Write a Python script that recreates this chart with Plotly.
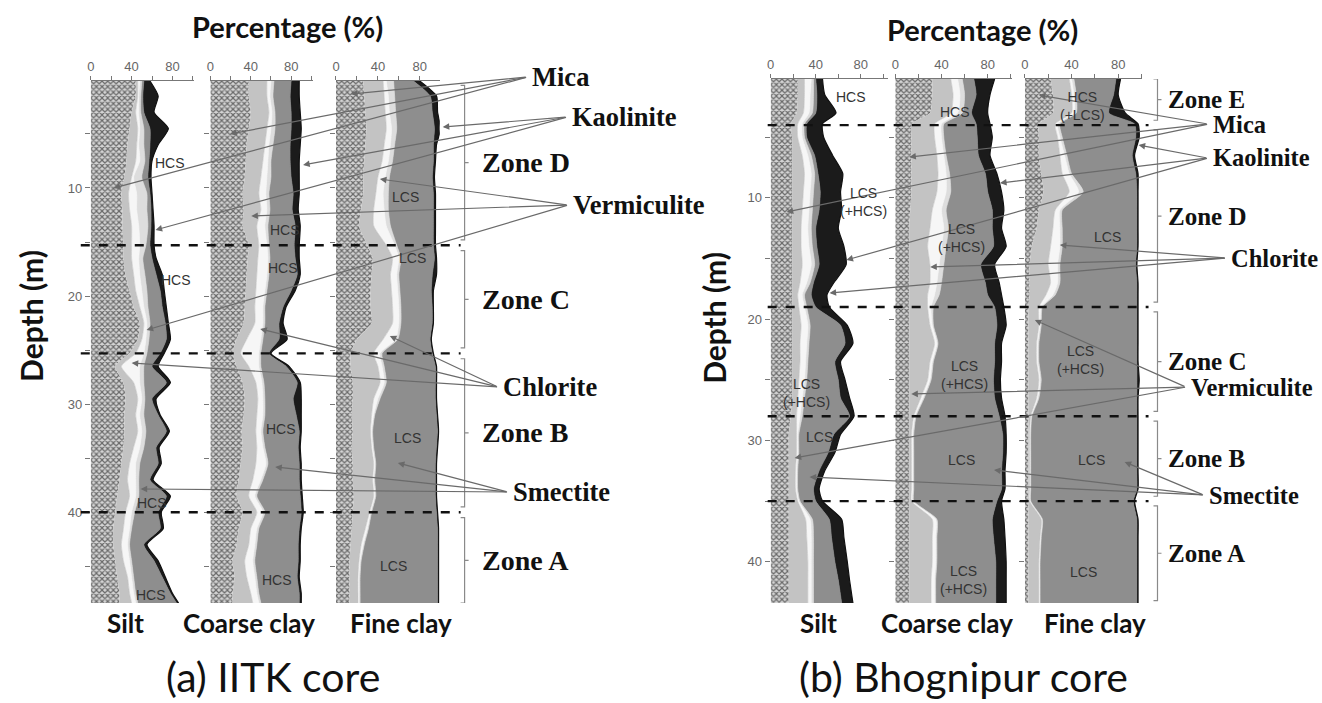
import plotly.graph_objects as go

W, H = 1322, 703

# ---------------- data (cumulative mineral boundaries, % of fraction) ----------------
MINERALS = ["Mica", "Vermiculite", "Chlorite", "Mixed layer", "Smectite", "Kaolinite"]

IITK_DEPTH = [0.1, 1.5, 3, 4.5, 6, 7.5, 9, 10.5, 12, 13.5, 15.3, 16.5, 18, 19.5, 21, 22.5,
              24, 25.3, 26.5, 28, 29.5, 31, 32.5, 34, 35.5, 37, 38.5, 40, 41.5, 43, 44.5,
              46, 47.5, 48.4]

IITK_SILT = [
    (44, 46, 48, 50, 52, 58), (44, 46, 47, 49, 51, 66), (40, 44, 47, 49, 52, 62),
    (38, 46, 48, 52, 58, 76), (36, 45, 47, 52, 58, 66), (35, 44, 48, 53, 57, 60),
    (33, 40, 42, 50, 56, 59), (30, 37, 45, 55, 58, 60), (31, 38, 45, 55, 59, 61),
    (31, 40, 47, 56, 59, 62), (32, 40, 48, 54, 58, 62), (32, 40, 47, 51, 60, 64),
    (34, 42, 48, 53, 64, 70), (38, 44, 50, 55, 68, 72), (42, 48, 52, 56, 70, 74),
    (48, 52, 55, 58, 73, 76), (46, 50, 54, 57, 74, 78), (38, 44, 52, 55, 68, 72),
    (24, 30, 48, 52, 60, 66), (32, 42, 48, 52, 74, 78), (34, 46, 50, 53, 60, 64),
    (33, 44, 48, 52, 66, 68), (33, 46, 50, 54, 74, 77), (32, 42, 48, 52, 64, 67),
    (30, 38, 44, 48, 66, 69), (28, 36, 44, 47, 58, 61), (26, 38, 44, 47, 74, 78),
    (24, 34, 40, 43, 66, 69), (22, 32, 38, 40, 68, 71), (22, 30, 36, 38, 52, 55),
    (24, 32, 38, 40, 62, 66), (26, 36, 40, 42, 70, 73), (28, 38, 42, 44, 78, 80),
    (28, 40, 44, 46, 84, 86),
]
IITK_COARSE = [
    (38, 56, 60, 63, 80, 88), (38, 56, 59, 62, 79, 88), (40, 58, 61, 64, 80, 89),
    (38, 56, 60, 64, 80, 90), (36, 54, 58, 62, 79, 89), (35, 52, 57, 60, 79, 88),
    (34, 50, 56, 60, 80, 88), (32, 48, 55, 58, 82, 88), (33, 50, 56, 59, 81, 87),
    (32, 46, 54, 57, 84, 89), (38, 48, 56, 58, 83, 88), (37, 47, 57, 59, 84, 88),
    (36, 46, 56, 58, 86, 89), (35, 45, 54, 56, 80, 84), (34, 44, 52, 54, 72, 75),
    (33, 44, 52, 54, 68, 72), (26, 36, 50, 52, 68, 76), (22, 30, 48, 50, 58, 60),
    (26, 38, 48, 50, 75, 78), (32, 45, 51, 53, 86, 89), (34, 47, 52, 54, 82, 90),
    (33, 46, 52, 54, 85, 90), (31, 45, 50, 52, 88, 90), (32, 46, 52, 54, 87, 89),
    (30, 45, 55, 57, 88, 90), (28, 42, 50, 52, 88, 90), (26, 38, 44, 46, 89, 91),
    (32, 46, 52, 54, 90, 92), (28, 40, 46, 48, 88, 90), (26, 38, 44, 46, 87, 89),
    (22, 34, 42, 44, 87, 89), (24, 36, 44, 46, 86, 88), (22, 40, 46, 48, 88, 90),
    (22, 42, 48, 50, 88, 90),
]
IITK_FINE = [
    (26, 45, 48, 55, 74, 80), (27, 46, 50, 56, 90, 96), (28, 47, 51, 57, 92, 97),
    (29, 48, 53, 58, 94, 100), (28, 46, 52, 56, 93, 96), (27, 44, 50, 54, 93, 95),
    (26, 40, 47, 51, 92, 94), (26, 38, 45, 50, 93, 95), (24, 36, 46, 50, 93, 95),
    (22, 36, 48, 52, 93, 95), (30, 48, 56, 58, 93, 95), (35, 54, 60, 62, 94, 96),
    (34, 52, 58, 60, 92, 96), (33, 53, 59, 61, 91, 93), (33, 54, 60, 62, 92, 93),
    (34, 54, 60, 62, 92, 93), (20, 45, 57, 59, 90, 91), (14, 36, 42, 44, 92, 93),
    (14, 40, 44, 46, 95, 96), (16, 42, 46, 48, 95, 96), (16, 36, 40, 42, 95, 96),
    (15, 34, 36, 37, 96, 97), (16, 33, 34, 35, 97, 98), (15, 34, 35, 36, 96, 97),
    (16, 36, 37, 38, 95, 96), (16, 35, 36, 37, 95, 96), (17, 36, 37, 38, 95, 96),
    (16, 32, 33, 34, 96, 97), (15, 28, 30, 31, 97, 98), (14, 24, 26, 27, 97, 98),
    (13, 22, 23, 24, 97, 98), (13, 21, 22, 23, 97, 98), (13, 21, 22, 23, 97, 98),
    (13, 21, 22, 23, 97, 98),
]

BHOG_DEPTH = [0.2, 1.5, 3, 3.9, 5, 6.5, 8, 9.5, 11, 12.5, 14, 15.5, 17, 18, 19, 20.5, 22,
              23.5, 25, 26.5, 28, 29.5, 31, 32.5, 34, 35, 36.5, 38, 40, 41.5, 43.4]

BHOG_SILT = [
    (24, 30, 36, 38, 40, 46), (24, 30, 35, 38, 41, 48), (23, 29, 34, 37, 40, 58),
    (18, 24, 28, 30, 32, 46), (19, 24, 28, 30, 32, 47), (19, 28, 33, 36, 39, 55),
    (19, 30, 36, 39, 42, 64), (19, 29, 35, 38, 44, 62), (19, 28, 34, 37, 43, 63),
    (19, 27, 33, 36, 40, 60), (19, 27, 34, 37, 41, 65), (19, 28, 36, 39, 43, 67),
    (19, 26, 32, 35, 38, 56), (19, 24, 28, 30, 36, 50), (19, 25, 30, 32, 40, 52),
    (19, 27, 33, 35, 62, 68), (19, 26, 32, 34, 66, 73), (19, 26, 31, 33, 57, 62),
    (19, 25, 30, 32, 60, 66), (19, 24, 28, 30, 62, 70), (18, 23, 26, 28, 70, 74),
    (16, 23, 24, 25, 56, 62), (16, 23, 24, 25, 51, 57), (16, 22, 23, 24, 43, 48),
    (16, 22, 23, 24, 38, 43), (16, 24, 25, 26, 40, 46), (16, 31, 35, 37, 52, 63),
    (16, 32, 36, 38, 54, 65), (16, 33, 36, 38, 57, 68), (16, 33, 36, 38, 60, 70),
    (16, 33, 36, 38, 63, 73),
]
BHOG_COARSE = [
    (32, 48, 54, 58, 68, 86), (32, 50, 56, 60, 70, 82), (30, 48, 54, 58, 66, 80),
    (14, 34, 40, 42, 70, 82), (14, 34, 40, 42, 71, 84), (14, 36, 42, 44, 72, 82),
    (14, 37, 44, 47, 78, 88), (14, 36, 44, 48, 80, 92), (13, 32, 40, 44, 84, 94),
    (12, 30, 42, 46, 84, 92), (12, 28, 40, 44, 85, 96), (12, 30, 38, 42, 74, 86),
    (12, 30, 36, 40, 78, 90), (12, 28, 34, 38, 80, 92), (12, 28, 31, 33, 86, 94),
    (12, 30, 32, 33, 88, 96), (12, 34, 36, 37, 86, 92), (12, 30, 32, 33, 86, 92),
    (12, 28, 30, 31, 85, 91), (12, 22, 24, 25, 86, 92), (12, 16, 17, 18, 90, 95),
    (12, 14, 15, 16, 93, 96), (12, 14, 15, 16, 93, 96), (12, 14, 15, 16, 92, 95),
    (12, 14, 15, 16, 92, 95), (12, 14, 15, 16, 88, 92), (12, 32, 35, 36, 84, 94),
    (12, 32, 35, 36, 85, 95), (12, 32, 35, 36, 87, 96), (12, 31, 34, 35, 87, 96),
    (12, 31, 34, 35, 87, 96),
]
BHOG_FINE = [
    (22, 38, 40, 42, 78, 82), (24, 40, 42, 44, 76, 80), (24, 40, 42, 44, 72, 86),
    (12, 26, 28, 30, 94, 97), (12, 28, 30, 32, 95, 98), (12, 30, 34, 36, 92, 94),
    (14, 32, 38, 40, 95, 97), (16, 38, 46, 50, 96, 97), (12, 26, 30, 32, 96, 97),
    (10, 24, 30, 32, 96, 97), (6, 22, 30, 32, 96, 97), (4, 20, 28, 30, 95, 96),
    (4, 22, 28, 30, 96, 97), (4, 18, 24, 26, 96, 97), (3, 12, 14, 15, 96, 97),
    (3, 12, 13, 14, 96, 97), (3, 10, 11, 12, 96, 97), (3, 10, 11, 12, 96, 97),
    (3, 12, 13, 14, 96, 98), (3, 10, 11, 12, 96, 97), (3, 5, 6, 6, 96, 97),
    (3, 4, 5, 5, 96, 97), (3, 4, 5, 5, 96, 97), (3, 4, 5, 5, 96, 97),
    (3, 4, 5, 5, 96, 97), (3, 4, 5, 5, 93, 94), (3, 14, 15, 15, 96, 97),
    (3, 13, 14, 14, 96, 97), (3, 12, 13, 13, 96, 97), (3, 12, 13, 13, 96, 97),
    (3, 12, 13, 13, 96, 97),
]

IITK_BOUNDARIES = [15.3, 25.3, 40]
BHOG_BOUNDARIES = [4, 19, 28, 35]
IITK_ZONES = [("Zone D", 0.5, 14.8), ("Zone C", 15.8, 24.8), ("Zone B", 25.8, 39.5), ("Zone A", 40.5, 48.4)]
BHOG_ZONES = [("Zone E", 0.2, 3.6), ("Zone D", 4.4, 18.6), ("Zone C", 19.4, 27.6), ("Zone B", 28.4, 34.6), ("Zone A", 35.4, 43.2)]

PCT_TICKS = [0, 20, 40, 60, 80, 100]
PCT_TICKTEXT = ["0", "", "40", "", "80", ""]

# ---------------- styling ----------------
FILL = ["#d4d4d4", "#c3c3c3", "#f6f6f6", "#dddddd", "#8e8e8e", "#1b1b1b"]
GREY_TXT = "#666666"

fig = go.Figure()

def px_x(p):
    return p / W

def px_y(p):
    return 1 - p / H

# panel geometry: (name, depth, table, left px, right px, xmax, top px, bottom px, yrange)
panels = [
    ("Silt", IITK_DEPTH, IITK_SILT, 87, 191, 101.5, 81, 603, [48.4, 0.1]),
    ("Coarse clay", IITK_DEPTH, IITK_COARSE, 207, 310, 101.7, 81, 603, [48.4, 0.1]),
    ("Fine clay", IITK_DEPTH, IITK_FINE, 333, 437, 99.0, 81, 603, [48.4, 0.1]),
    ("Silt", BHOG_DEPTH, BHOG_SILT, 769, 887, 104.4, 79, 603, [43.4, 0.2]),
    ("Coarse clay", BHOG_DEPTH, BHOG_COARSE, 894, 1011, 101.0, 79, 603, [43.4, 0.2]),
    ("Fine clay", BHOG_DEPTH, BHOG_FINE, 1024, 1141, 100.0, 79, 603, [43.4, 0.2]),
]

layout_axes = {}
for i, (name, depth, table, x0, x1, xmax, y0, y1, yr) in enumerate(panels, start=1):
    xa = "x" if i == 1 else f"x{i}"
    ya = "y" if i == 1 else f"y{i}"
    cols = list(zip(*table))
    for k, col in enumerate(cols):
        kw = dict(
            x=list(col), y=depth, xaxis=xa, yaxis=ya, mode="lines",
            fill="tozerox" if k == 0 else "tonextx",
            fillcolor=FILL[k],
            line=dict(width=0.6 if k < 5 else 1.2, color=FILL[k] if k < 5 else "#111111", shape="spline", smoothing=0.6),
            name=MINERALS[k], showlegend=False, hoverinfo="skip",
        )
        if k == 0:
            kw["fillpattern"] = dict(shape="x", size=4, solidity=0.5, fgcolor="#6a6a6a",
                                     bgcolor="#d4d4d4", fillmode="replace")
            kw["line"] = dict(width=0, color="#bdbdbd", shape="spline", smoothing=0.6)
        fig.add_trace(go.Scatter(**kw))
    first = i in (1, 4)
    ytv = [5, 10, 15, 20, 25, 30, 35, 40, 45] if i <= 3 else [5, 10, 15, 20, 25, 30, 35, 40]
    ytt = [str(v) if v % 10 == 0 else "" for v in ytv]
    layout_axes["xaxis" if i == 1 else f"xaxis{i}"] = dict(
        domain=[px_x(x0), px_x(x1)], range=[0, xmax], side="top", anchor=ya,
        tickvals=PCT_TICKS, ticktext=PCT_TICKTEXT, ticks="outside", ticklen=4,
        tickcolor="#777", tickwidth=1, showline=True, linecolor="#777", linewidth=1.3,
        showgrid=False, zeroline=False, fixedrange=True,
        tickfont=dict(family="Liberation Sans", size=13, color=GREY_TXT),
    )
    layout_axes["yaxis" if i == 1 else f"yaxis{i}"] = dict(
        domain=[px_y(y1), px_y(y0)], range=yr, anchor=xa,
        tickvals=ytv, ticktext=ytt, ticks="outside", ticklen=5, tickcolor="#777",
        showticklabels=first, showline=False, showgrid=False, zeroline=False, fixedrange=True,
        tickfont=dict(family="Liberation Sans", size=13, color=GREY_TXT),
    )

shapes = []
annotations = []

# dashed zone boundaries
for d in IITK_BOUNDARIES:
    shapes.append(dict(type="line", xref="paper", yref="y", x0=px_x(77), x1=px_x(458), y0=d, y1=d,
                       line=dict(color="#111", width=2.4, dash="dash")))
for d in BHOG_BOUNDARIES:
    shapes.append(dict(type="line", xref="paper", yref="y4", x0=px_x(766), x1=px_x(1148), y0=d, y1=d,
                       line=dict(color="#111", width=2.4, dash="dash")))

# brackets and zone labels
def bracket(xpix, yref, d0, d1):
    xl = px_x(xpix - 4)
    xm = px_x(xpix)
    xr = px_x(xpix + 4)
    mid = (d0 + d1) / 2
    path = (f"M {xl} {d0} L {xm} {d0} L {xm} {d1} L {xl} {d1} "
            f"M {xm} {mid} L {xr} {mid}")
    return dict(type="path", xref="paper", yref=yref, path=path,
                line=dict(color="#8a8a8a", width=1.2))

for zname, d0, d1 in IITK_ZONES:
    shapes.append(bracket(462, "y", d0, d1))
    annotations.append(dict(text=f"<b>{zname}</b>", xref="paper", yref="y", x=px_x(477), y=(d0 + d1) / 2,
                            xanchor="left", yanchor="middle", showarrow=False,
                            font=dict(family="Liberation Serif", size=28, color="#111")))
for zname, d0, d1 in BHOG_ZONES:
    shapes.append(bracket(1157, "y4", d0, d1))
    annotations.append(dict(text=f"<b>{zname}</b>", xref="paper", yref="y4", x=px_x(1166), y=(d0 + d1) / 2,
                            xanchor="left", yanchor="middle", showarrow=False,
                            font=dict(family="Liberation Serif", size=25, color="#111")))

# mineral labels with leader lines (pixel positions)
LEADERS = [
    ("Mica", 528, 77, [(110, 188), (227, 134), (348, 94)]),
    ("Kaolinite", 568, 117, [(152, 230), (300, 165), (440, 127)]),
    ("Vermiculite", 569, 205, [(143, 330), (248, 216), (377, 179)]),
    ("Chlorite", 499, 387, [(128, 363), (257, 329), (387, 336)]),
    ("Smectite", 509, 492, [(137, 489), (272, 467), (395, 463)]),
    ("Mica", 1211, 124, [(785, 212), (908, 157), (1038, 95)]),
    ("Kaolinite", 1211, 158, [(845, 260), (999, 183), (1138, 145)]),
    ("Chlorite", 1229, 258, [(828, 293), (929, 267), (1059, 245)]),
    ("Vermiculite", 1189, 387, [(793, 458), (910, 394), (1034, 320)]),
    ("Smectite", 1207, 495, [(808, 477), (993, 470), (1124, 462)]),
]
for label, lx, ly, heads in LEADERS:
    fs = 26.5 if lx < 700 else 24.5
    annotations.append(dict(text=f"<b>{label}</b>", xref="paper", yref="paper", x=px_x(lx), y=px_y(ly),
                            xanchor="left", yanchor="middle", showarrow=False,
                            font=dict(family="Liberation Serif", size=fs, color="#111")))
    for hx, hy in heads:
        annotations.append(dict(text="", xref="paper", yref="paper", x=px_x(hx), y=px_y(hy),
                                showarrow=True, axref="pixel", ayref="pixel",
                                ax=(lx - 4) - hx, ay=ly - hy, arrowhead=2, arrowsize=1.1,
                                arrowwidth=1.2, arrowcolor="#6a6a6a", standoff=0))

# HCS / LCS labels inside columns
SAMPLE_TAGS = [
    ("HCS", 167, 163), ("HCS", 173, 280), ("HCS", 148, 503), ("HCS", 147, 595),
    ("HCS", 282, 230), ("HCS", 280, 268), ("HCS", 278, 429), ("HCS", 274, 580),
    ("LCS", 403, 197), ("LCS", 410, 258), ("LCS", 405, 438), ("LCS", 391, 566),
    ("HCS", 850, 97), ("LCS<br>(+HCS)", 862, 202), ("LCS<br>(+HCS)", 805, 393), ("LCS", 818, 437),
    ("HCS", 954, 112), ("LCS<br>(+HCS)", 960, 238), ("LCS<br>(+HCS)", 963, 375), ("LCS", 960, 460),
    ("LCS<br>(+HCS)", 962, 580),
    ("HCS<br>(+LCS)", 1082, 106), ("LCS", 1107, 237), ("LCS<br>(+HCS)", 1080, 360),
    ("LCS", 1091, 460), ("LCS", 1083, 572),
]
for t, x, y in SAMPLE_TAGS:
    annotations.append(dict(text=t, xref="paper", yref="paper", x=px_x(x), y=px_y(y),
                            showarrow=False, xanchor="center", yanchor="middle",
                            font=dict(family="Liberation Sans", size=14, color="#333")))

# titles and column names
TITLES = [
    ("<b>Percentage (%)</b>", 284, 27, 29, 0),
    ("<b>Percentage (%)</b>", 981, 29, 29, 0),
    ("<b>Depth (m)</b>", 27, 316, 30, -90),
    ("<b>Depth (m)</b>", 712, 318, 30, -90),
    ("<b>Silt</b>", 122, 623, 26, 0), ("<b>Coarse clay</b>", 246, 623, 26, 0), ("<b>Fine clay</b>", 398, 623, 26, 0),
    ("<b>Silt</b>", 817, 623, 26, 0), ("<b>Coarse clay</b>", 946, 623, 26, 0), ("<b>Fine clay</b>", 1094, 623, 26, 0),
    ("(a) IITK core", 270, 676, 41, 0),
    ("(b) Bhognipur core", 962, 676, 41, 0),
]
for t, x, y, s, ang in TITLES:
    annotations.append(dict(text=t, xref="paper", yref="paper", x=px_x(x), y=px_y(y),
                            showarrow=False, xanchor="center", yanchor="middle", textangle=ang,
                            font=dict(family="Lato", size=s, color="#111")))

fig.update_layout(
    width=W, height=H, margin=dict(l=0, r=0, t=0, b=0),
    paper_bgcolor="white", plot_bgcolor="white",
    shapes=shapes, annotations=annotations, showlegend=False,
    **layout_axes,
)

fig.write_html("out.html", config={"displayModeBar": False},
               post_script="document.body.style.margin='0px';document.body.style.overflow='hidden';")
